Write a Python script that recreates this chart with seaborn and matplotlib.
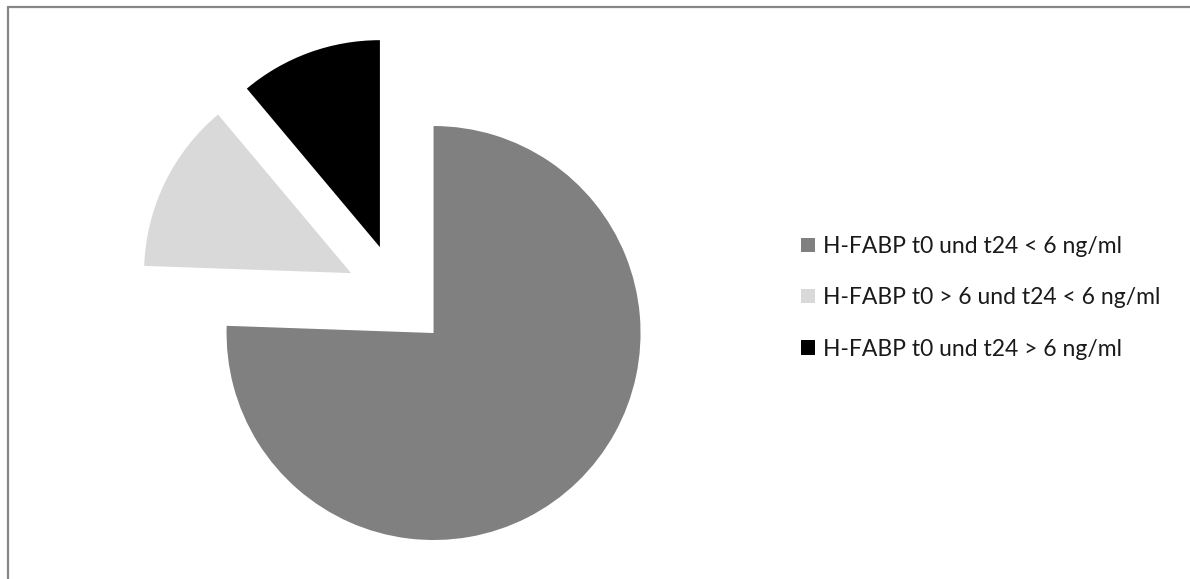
import matplotlib
matplotlib.use("Agg")
import matplotlib.pyplot as plt
import matplotlib.lines as mlines
import seaborn as sns

# Data (counts, share of patients)
labels = ["H-FABP t0 und t24 < 6 ng/ml",
          "H-FABP t0 > 6 und t24 < 6 ng/ml",
          "H-FABP t0 und t24 > 6 ng/ml"]
counts = [68, 12, 10]
colors = ["#808080", "#d9d9d9", "#000000"]

sns.set_theme(style="white")
plt.rcParams['font.family'] = ['Lato', 'DejaVu Sans']

W, H = 1190, 579
R = 207
fig = plt.figure(figsize=(W / 100, H / 100), dpi=100)
ax = fig.add_axes([0, 0, 1, 1])

# explode is in data units here (pie radius is in pixels)
wedges, _ = ax.pie(counts, colors=colors, startangle=90, counterclock=False,
                   explode=[0.25 * R] * 3, radius=R,
                   center=(397.6, H - 295.8), frame=True,
                   wedgeprops=dict(linewidth=0))
ax.set_xlim(0, W)
ax.set_ylim(0, H)
ax.set_aspect("equal")
ax.axis("off")

leg = fig.legend(wedges, labels, loc="upper left",
                 bbox_to_anchor=(801 / W, 1 - 236 / H),
                 frameon=False, fontsize=16.5, handlelength=0.6,
                 handleheight=0.6, handletextpad=0.38, labelspacing=1.32,
                 borderaxespad=0, borderpad=0)
for t in leg.get_texts():
    t.set_color("#1a1a1a")

# chart border (top and left edges visible)
border = "#868686"
fig.add_artist(mlines.Line2D([8 / W, 1], [1 - 7 / H, 1 - 7 / H], color=border, lw=1.6,
                             transform=fig.transFigure))
fig.add_artist(mlines.Line2D([8 / W, 8 / W], [0, 1 - 7 / H], color=border, lw=1.6,
                             transform=fig.transFigure))

fig.savefig("out.png", dpi=100, facecolor="white")
